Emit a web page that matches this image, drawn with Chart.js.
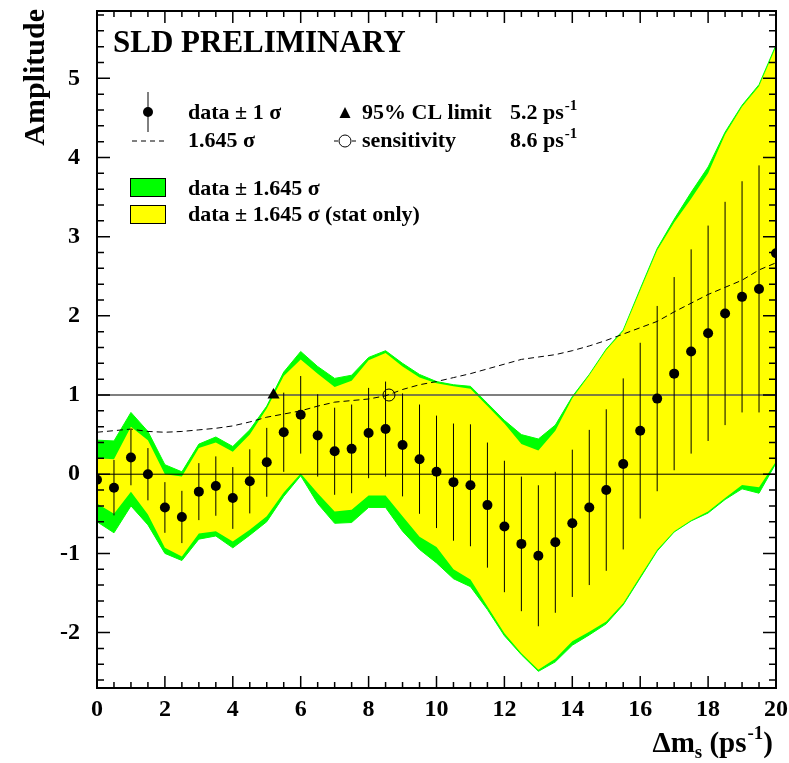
<!DOCTYPE html>
<html>
<head>
<meta charset="utf-8">
<script src="https://cdn.jsdelivr.net/npm/chart.js@4.4.0/dist/chart.umd.min.js"></script>
<style>
  html, body { margin: 0; padding: 0; background: #fff; }
</style>
</head>
<body>
<canvas id="myChart" width="789" height="763"></canvas>
<script>
// amplitude scan, values
const xs = [0, 0.5, 1, 1.5, 2, 2.5, 3, 3.5, 4, 4.5, 5, 5.5, 6, 6.5, 7, 7.5, 8, 8.5, 9, 9.5, 10,
            10.5, 11, 11.5, 12, 12.5, 13, 13.5, 14, 14.5, 15, 15.5, 16, 16.5, 17, 17.5, 18, 18.5, 19, 19.5, 20];
const amp = [-0.07, -0.17, 0.21, 0.0, -0.42, -0.54, -0.22, -0.15, -0.30, -0.09, 0.15, 0.53, 0.75, 0.49, 0.29, 0.32, 0.52, 0.57, 0.37, 0.19, 0.03,
             -0.10, -0.14, -0.39, -0.66, -0.88, -1.03, -0.86, -0.62, -0.42, -0.20, 0.13, 0.55, 0.955, 1.27, 1.55, 1.78, 2.03, 2.24, 2.34, 2.79];
const sigma = [0.32, 0.35, 0.35, 0.33, 0.32, 0.33, 0.36, 0.375, 0.39, 0.405, 0.435, 0.50, 0.49, 0.52, 0.55, 0.56, 0.57, 0.60, 0.65, 0.69, 0.71,
               0.74, 0.77, 0.79, 0.83, 0.85, 0.89, 0.89, 0.93, 0.98, 1.02, 1.08, 1.11, 1.17, 1.22, 1.29, 1.36, 1.41, 1.46, 1.56, 1.62];
const sens = [0.53, 0.55, 0.57, 0.54, 0.53, 0.54, 0.56, 0.58, 0.61, 0.66, 0.72, 0.76, 0.80, 0.86, 0.91, 0.93, 0.95, 0.99, 1.07, 1.13, 1.17,
              1.22, 1.27, 1.33, 1.39, 1.45, 1.48, 1.51, 1.56, 1.62, 1.69, 1.77, 1.85, 1.93, 2.05, 2.16, 2.27, 2.36, 2.45, 2.58, 2.67];
const totHi = [0.43, 0.42, 0.78, 0.54, 0.12, 0.03, 0.38, 0.47, 0.35, 0.56, 0.86, 1.29, 1.55, 1.36, 1.21, 1.25, 1.475, 1.56, 1.40, 1.26, 1.17,
               1.13, 1.11, 0.895, 0.68, 0.50, 0.445, 0.62, 0.98, 1.26, 1.58, 1.82, 2.34, 2.85, 3.22, 3.56, 3.88, 4.32, 4.66, 4.92, 5.42];
const statHi = [0.20, 0.19, 0.60, 0.43, 0.0, -0.03, 0.33, 0.40, 0.285, 0.50, 0.83, 1.24, 1.45, 1.27, 1.10, 1.18, 1.44, 1.53, 1.36, 1.22, 1.15,
                1.11, 1.08, 0.86, 0.64, 0.38, 0.30, 0.55, 0.96, 1.25, 1.57, 1.81, 2.32, 2.83, 3.18, 3.48, 3.80, 4.29, 4.64, 4.90, 5.40];
const statLo = [-0.37, -0.50, -0.22, -0.51, -0.93, -1.04, -0.75, -0.72, -0.85, -0.70, -0.53, -0.23, 0.01, -0.24, -0.47, -0.45, -0.27, -0.27, -0.53, -0.79, -0.92,
                -1.20, -1.33, -1.67, -2.01, -2.26, -2.47, -2.33, -2.11, -1.99, -1.86, -1.63, -1.29, -0.955, -0.72, -0.58, -0.47, -0.30, -0.135, -0.165, 0.16];
const totLo = [-0.60, -0.74, -0.40, -0.64, -1.00, -1.09, -0.82, -0.78, -0.93, -0.77, -0.60, -0.28, -0.02, -0.37, -0.62, -0.61, -0.42, -0.42, -0.72, -0.95, -1.12,
               -1.32, -1.42, -1.71, -2.04, -2.28, -2.49, -2.37, -2.16, -2.03, -1.89, -1.65, -1.31, -0.97, -0.73, -0.59, -0.49, -0.32, -0.185, -0.24, 0.14];
const limitX = 5.2;
const sensX = 8.6;
const xTicks = [0, 2, 4, 6, 8, 10, 12, 14, 16, 18, 20];
const yTicks = [-2, -1, 0, 1, 2, 3, 4, 5];

const SERIF = '"Liberation Serif", "Times New Roman", serif';
const pts = arr => xs.map((x, i) => ({x: x, y: arr[i]}));

// error bars as one broken line: low, high, gap
const errSegs = [];
xs.forEach((x, i) => {
  errSegs.push({x: x, y: amp[i] - sigma[i]}, {x: x, y: amp[i] + sigma[i]}, {x: x, y: null});
});

function textSup(ctx, x, y, base, sup, size, supSize, rise) {
  ctx.font = 'bold ' + size + 'px ' + SERIF;
  ctx.fillText(base, x, y);
  const w = ctx.measureText(base).width;
  ctx.font = 'bold ' + supSize + 'px ' + SERIF;
  ctx.fillText(sup, x + w + 1, y - rise);
}

const frameTicks = {
  id: 'frameTicks',
  afterDatasetsDraw(chart) {
    const {ctx, chartArea: a, scales: {x, y}} = chart;
    ctx.save();
    ctx.strokeStyle = '#000';
    ctx.lineWidth = 1.5;
    ctx.beginPath();
    for (let i = 0; i <= 40; i++) {
      const px = x.getPixelForValue(i * 0.5);
      const len = i % 4 === 0 ? 12 : 6;
      ctx.moveTo(px, a.bottom); ctx.lineTo(px, a.bottom - len);
      ctx.moveTo(px, a.top); ctx.lineTo(px, a.top + len);
    }
    for (let i = -13; i <= 29; i++) {
      const py = y.getPixelForValue(i * 0.2);
      const len = i % 5 === 0 ? 13 : 7;
      ctx.moveTo(a.left, py); ctx.lineTo(a.left + len, py);
      ctx.moveTo(a.right, py); ctx.lineTo(a.right - len, py);
    }
    ctx.stroke();
    ctx.lineWidth = 2;
    ctx.strokeRect(a.left, a.top, a.right - a.left, a.bottom - a.top);
    ctx.restore();
  },
  afterDraw(chart) {
    const ctx = chart.ctx;
    ctx.save();
    ctx.fillStyle = '#000';
    ctx.strokeStyle = '#000';
    ctx.textBaseline = 'alphabetic';
    ctx.textAlign = 'left';

    ctx.font = 'bold 31px ' + SERIF;
    ctx.fillText('SLD PRELIMINARY', 113, 52);

    // row 1
    ctx.lineWidth = 1;
    ctx.beginPath();
    ctx.moveTo(148, 92); ctx.lineTo(148, 132);
    ctx.stroke();
    ctx.beginPath();
    ctx.arc(148, 112, 5, 0, Math.PI * 2);
    ctx.fill();
    ctx.font = 'bold 22px ' + SERIF;
    ctx.fillText('data \u00b1 1 \u03c3', 188, 119);
    ctx.beginPath();
    ctx.moveTo(345, 107); ctx.lineTo(350.5, 118); ctx.lineTo(339.5, 118);
    ctx.closePath();
    ctx.fill();
    ctx.font = 'bold 22px ' + SERIF;
    ctx.fillText('95% CL limit', 362, 119);
    textSup(ctx, 510, 119, '5.2 ps', '-1', 22, 15, 9);

    // row 2
    ctx.setLineDash([5, 4]);
    ctx.beginPath();
    ctx.moveTo(132, 141); ctx.lineTo(166, 141);
    ctx.stroke();
    ctx.setLineDash([]);
    ctx.font = 'bold 22px ' + SERIF;
    ctx.fillText('1.645 \u03c3', 188, 147);
    ctx.beginPath();
    ctx.arc(345, 141, 6, 0, Math.PI * 2);
    ctx.moveTo(334, 141); ctx.lineTo(338, 141);
    ctx.moveTo(352, 141); ctx.lineTo(356, 141);
    ctx.stroke();
    ctx.font = 'bold 22px ' + SERIF;
    ctx.fillText('sensitivity', 362, 147);
    textSup(ctx, 510, 147, '8.6 ps', '-1', 22, 15, 9);

    // boxes
    ctx.fillStyle = '#00ff00';
    ctx.fillRect(130, 178, 35, 18);
    ctx.strokeRect(130.5, 178.5, 35, 18);
    ctx.fillStyle = '#ffff00';
    ctx.fillRect(130, 205, 35, 18);
    ctx.strokeRect(130.5, 205.5, 35, 18);
    ctx.fillStyle = '#000';
    ctx.font = 'bold 22px ' + SERIF;
    ctx.fillText('data \u00b1 1.645 \u03c3', 188, 195);
    ctx.fillText('data \u00b1 1.645 \u03c3 (stat only)', 188, 221);

    // y title
    ctx.save();
    ctx.translate(44, 9);
    ctx.rotate(-Math.PI / 2);
    ctx.textAlign = 'right';
    ctx.font = 'bold 30px ' + SERIF;
    ctx.fillText('Amplitude', 0, 0);
    ctx.restore();

    // x title: Δm_s (ps^-1), right aligned
    const big = 'bold 29px ' + SERIF, small = 'bold 19px ' + SERIF;
    ctx.font = big; const w1 = ctx.measureText('\u0394m').width;
    ctx.font = small; const w2 = ctx.measureText('s').width;
    ctx.font = big; const w3 = ctx.measureText(' (ps').width;
    ctx.font = small; const w4 = ctx.measureText('-1').width;
    ctx.font = big; const w5 = ctx.measureText(')').width;
    let xx = 773 - (w1 + w2 + w3 + w4 + w5 + 1);
    const by = 752;
    ctx.font = big; ctx.fillText('\u0394m', xx, by); xx += w1;
    ctx.font = small; ctx.fillText('s', xx, by + 6); xx += w2;
    ctx.font = big; ctx.fillText(' (ps', xx, by); xx += w3 + 1;
    ctx.font = small; ctx.fillText('-1', xx, by - 13); xx += w4;
    ctx.font = big; ctx.fillText(')', xx, by);
    ctx.restore();
  }
};

const chart = new Chart(document.getElementById('myChart').getContext('2d'), {
  type: 'line',
  data: {
    datasets: [
      {label: '95% CL limit', data: [{x: limitX, y: 1}], showLine: false, pointStyle: 'triangle',
       pointRadius: 7, backgroundColor: '#000', borderColor: '#000', borderWidth: 0, order: 0},
      {label: 'sensitivity', data: [{x: sensX, y: 1}], showLine: false, pointStyle: 'circle',
       pointRadius: 6, backgroundColor: 'rgba(0,0,0,0)', borderColor: '#000', borderWidth: 1, order: 0},
      {label: 'data', data: pts(amp), showLine: false, pointRadius: 5,
       backgroundColor: '#000', borderColor: '#000', borderWidth: 0, order: 1},
      {label: 'data +- 1 sigma', data: errSegs, spanGaps: false, pointRadius: 0,
       borderColor: '#000', borderWidth: 1, order: 2},
      {label: '1.645 sigma', data: pts(sens), pointRadius: 0, borderColor: '#000',
       borderWidth: 1, borderDash: [6, 4], order: 3},
      {label: 'one', data: [{x: 0, y: 1}, {x: 20, y: 1}], pointRadius: 0,
       borderColor: '#555', borderWidth: 1.5, order: 4},
      {label: 'zero', data: [{x: 0, y: 0}, {x: 20, y: 0}], pointRadius: 0,
       borderColor: '#000', borderWidth: 1, order: 4},
      {label: 'stat hi', data: pts(statHi), fill: 8, pointRadius: 0,
       backgroundColor: '#ffff00', borderColor: 'rgba(0,0,0,0)', borderWidth: 1, order: 5},
      {label: 'stat lo', data: pts(statLo), pointRadius: 0,
       borderColor: 'rgba(0,0,0,0)', borderWidth: 1, order: 6},
      {label: 'tot hi', data: pts(totHi), fill: 10, pointRadius: 0,
       backgroundColor: '#00ff00', borderColor: '#00ff00', borderWidth: 1, order: 7},
      {label: 'tot lo', data: pts(totLo), pointRadius: 0,
       borderColor: '#00ff00', borderWidth: 1, order: 8}
    ]
  },
  options: {
    responsive: false,
    animation: false,
    events: [],
    layout: {padding: {left: 0, right: 13, top: 11, bottom: 0}},
    plugins: {legend: {display: false}, tooltip: {enabled: false}},
    scales: {
      x: {
        type: 'linear', min: 0, max: 20,
        grid: {display: false, drawTicks: false},
        border: {display: false},
        afterBuildTicks: s => { s.ticks = xTicks.map(v => ({value: v})); },
        afterFit: s => { s.height = 75; s.paddingLeft = 0; s.paddingRight = 0; },
        ticks: {color: '#000', padding: 7, maxRotation: 0,
                font: {family: SERIF, size: 24, weight: 'bold'}}
      },
      y: {
        type: 'linear', min: -2.7, max: 5.85,
        grid: {display: false, drawTicks: false},
        border: {display: false},
        afterBuildTicks: s => { s.ticks = yTicks.map(v => ({value: v})); },
        afterFit: s => { s.width = 97; s.paddingTop = 0; s.paddingBottom = 0; },
        ticks: {color: '#000', padding: 17,
                font: {family: SERIF, size: 24, weight: 'bold'}}
      }
    }
  },
  plugins: [frameTicks]
});
</script>
</body>
</html>
